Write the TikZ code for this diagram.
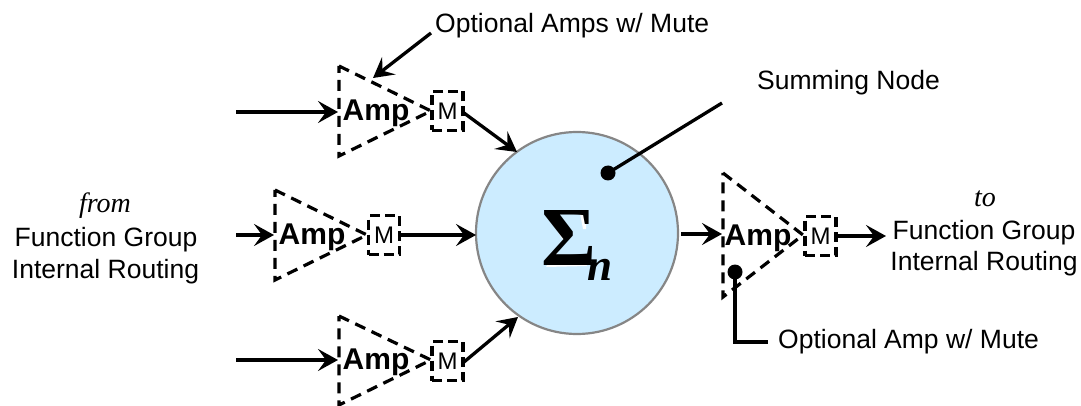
\documentclass[tikz,border=0pt]{standalone}
\usepackage{fontspec}
\setmainfont{Liberation Sans}
\newfontfamily\serifx{Liberation Serif}
\usetikzlibrary{arrows.meta}
\definecolor{sumfill}{RGB}{204,236,255}
\definecolor{sumline}{RGB}{134,134,134}
\tikzset{
  x=1pt,y=-1pt,
  lab/.style={inner sep=0pt,font=\fontsize{26.5}{30}\selectfont,align=center},
  ital/.style={inner sep=0pt,font=\fontsize{28}{30}\selectfont\serifx\itshape},
  amptext/.style={inner sep=0pt,font=\fontsize{30}{32}\selectfont\bfseries},
  tri/.style={draw=black,line width=3.2pt,dash pattern=on 11pt off 7pt,line join=miter},
  mutebox/.style={draw=black,line width=3.2pt,dash pattern=on 10pt off 5pt,inner sep=0pt,minimum width=31pt,minimum height=39pt,font=\fontsize{24}{26}\selectfont},
  conn/.style={draw=black,line width=3.3pt,-{Stealth[length=20pt,width=22pt,inset=8pt]}},
  plainline/.style={draw=black,line width=3.3pt},
  dotmark/.style={circle,fill=black,inner sep=0pt,minimum size=15pt},
}
\newcommand{\ampunit}[6]{% name, left x, top y, bottom y, apex x, apex y
  \draw[tri] (#2,#3) -- (#5,#6) -- (#2,#4) -- cycle;
  \coordinate (#1in) at (#2,{(#3+#4)/2});
}
\begin{document}
\begin{tikzpicture}
\useasboundingbox (0,0) rectangle (1081,406);
% summing node
\node[circle,draw=sumline,line width=2.2pt,fill=sumfill,minimum size=202pt,inner sep=0pt] (sum) at (577,233) {};
\fill[white] (554,220) -- (566,238.5) -- (552,262) -- (585,262) -- (587,266) -- (546,267) -- (563,240) -- (550,220) -- cycle;
\fill[white] (580,214) -- (586,214) -- (586,229) -- (583,229) -- cycle;
\node[inner sep=0pt,anchor=base west,font=\fontsize{84}{84}\selectfont\serifx\bfseries] (sigma) at (541,265) {Σ};
\node[inner sep=0pt,anchor=base west,font=\fontsize{45}{46}\selectfont\serifx\bfseries\itshape] (nsub) at (587,280) {n};
% amplifiers
\ampunit{a}{339}{66}{156}{431}{111}
\ampunit{b}{275}{190}{280}{367}{235}
\ampunit{c}{339}{316}{405}{431}{360}
\ampunit{d}{723}{173}{297}{803}{235}
\node[amptext] (amp1) at (376,113) {Amp};
\node[amptext] (amp2) at (312,237) {Amp};
\node[amptext] (amp3) at (376,362) {Amp};
\node[amptext] (amp4) at (758,238) {Amp};
\node[mutebox] (m1) at (447.5,111) {M};
\node[mutebox] (m2) at (384,235) {M};
\node[mutebox] (m3) at (447.5,361) {M};
\node[mutebox] (m4) at (820.5,236) {M};
% free ends
\coordinate (i1) at (236,112);
\coordinate (i2) at (236,235);
\coordinate (i3) at (236,360);
\coordinate (s4) at (681,234);
\coordinate (e1) at (338,112);
\coordinate (e2) at (274,235);
\coordinate (e3) at (338,360);
\coordinate (e4) at (722,234);
\coordinate (o4) at (886,236);
\coordinate (m1o) at (464,113);
\coordinate (m3o) at (464,362);
\coordinate (s1) at (517,152);
\coordinate (s2) at (476,235);
\coordinate (s3) at (518,317);
% connectors
\draw[conn] (i1) -- (e1);
\draw[conn] (i2) -- (e2);
\draw[conn] (i3) -- (e3);
\draw[conn] (m1o) -- (s1);
\draw[conn] (m2.east) -- (s2);
\draw[conn] (m3o) -- (s3);
\draw[conn] (s4) -- (e4);
\draw[conn] (m4.east) -- (o4);
% labels
\node[lab,anchor=west] (optA) at (435,25.5) {Optional Amps w/ Mute};
\node[lab,anchor=west] (sumL) at (757,82.5) {Summing Node};
\node[lab,anchor=west] (optB) at (778,341.5) {Optional Amp w/ Mute};
\node[ital] (from) at (105,206) {from};
\node[lab] (fg1) at (106,240) {Function Group};
\node[lab] (ir1) at (105.5,272) {Internal Routing};
\node[ital] (to) at (985,199) {to};
\node[lab] (fg2) at (984,232.5) {Function Group};
\node[lab] (ir2) at (984,263.5) {Internal Routing};
% callouts
\coordinate (c1) at (431,33);
\coordinate (c1e) at (373,78);
\draw[conn] (c1) -- (c1e);
\node[dotmark] (dot1) at (608,173) {};
\coordinate (c2) at (722,103);
\draw[plainline] (dot1.center) -- (c2);
\node[dotmark] (dot2) at (735,272) {};
\coordinate (c3) at (768,342);
\draw[plainline] (dot2.center) |- (c3);
\end{tikzpicture}
\end{document}
